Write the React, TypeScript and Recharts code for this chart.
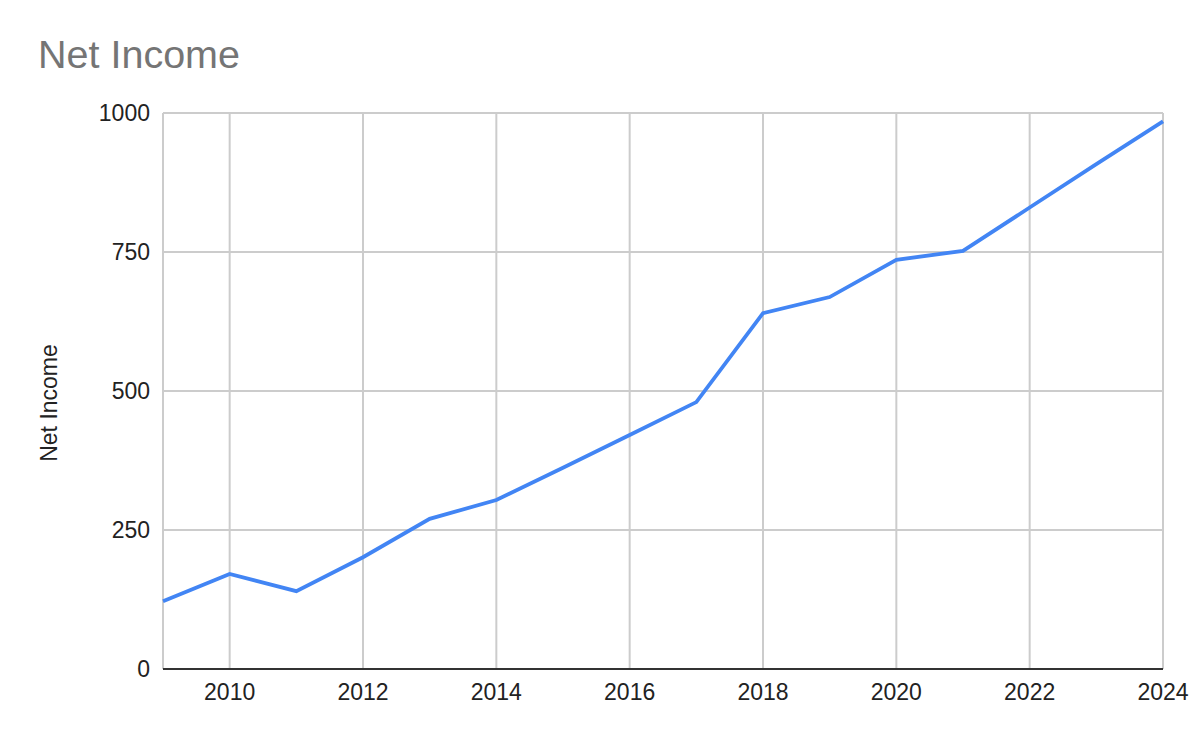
import React from "react";
import { LineChart, Line, XAxis, YAxis, CartesianGrid, Label } from "recharts";

const years = [2009, 2010, 2011, 2012, 2013, 2014, 2015, 2016, 2017, 2018, 2019, 2020, 2021, 2022, 2023, 2024];
const netIncome = [122, 171, 140, 201, 270, 304, 362, 421, 480, 640, 669, 736, 752, 830, 908, 985];
const xTicks = [2010, 2012, 2014, 2016, 2018, 2020, 2022, 2024];
const yTicks = [0, 250, 500, 750, 1000];

const data = years.map((y, i) => ({ year: y, value: netIncome[i] }));

const FONT = "Arial, 'Liberation Sans', sans-serif";

export default function App() {
  return (
    <div style={{ position: "absolute", left: 0, top: 0, width: 1200, height: 742, background: "#fff" }}>
      <LineChart
        width={1200}
        height={742}
        data={data}
        margin={{ top: 113, right: 37, bottom: 33, left: 0 }}
      >
        <CartesianGrid stroke="#cccccc" strokeWidth={2} />
        <XAxis
          dataKey="year"
          type="number"
          domain={[2009, 2024]}
          ticks={xTicks}
          height={40}
          axisLine={{ stroke: "#333333", strokeWidth: 2 }}
          tickLine={false}
          tickSize={6}
          tickMargin={9}
          tick={{ fill: "#222222", fontSize: 23, fontFamily: FONT }}
          interval={0}
        />
        <YAxis
          type="number"
          domain={[0, 1000]}
          ticks={yTicks}
          width={163}
          axisLine={false}
          tickLine={false}
          tickSize={6}
          tickMargin={7}
          tick={{ fill: "#222222", fontSize: 23, fontFamily: FONT }}
        >
          <Label
            content={() => (
              <text
                x={57}
                y={403}
                transform="rotate(-90, 57, 403)"
                textAnchor="middle"
                fill="#222222"
                fontSize={23}
                fontFamily={FONT}
              >
                Net Income
              </text>
            )}
          />
        </YAxis>
        <Line
          type="linear"
          dataKey="value"
          stroke="#4285F4"
          strokeWidth={3.8}
          dot={false}
          activeDot={false}
          isAnimationActive={false}
        />
      </LineChart>
      <svg
        width={1200}
        height={742}
        style={{ position: "absolute", left: 0, top: 0, pointerEvents: "none" }}
      >
        <text x={38} y={68} fill="#757575" fontSize={39.5} fontFamily={FONT}>
          Net Income
        </text>
      </svg>
    </div>
  );
}
